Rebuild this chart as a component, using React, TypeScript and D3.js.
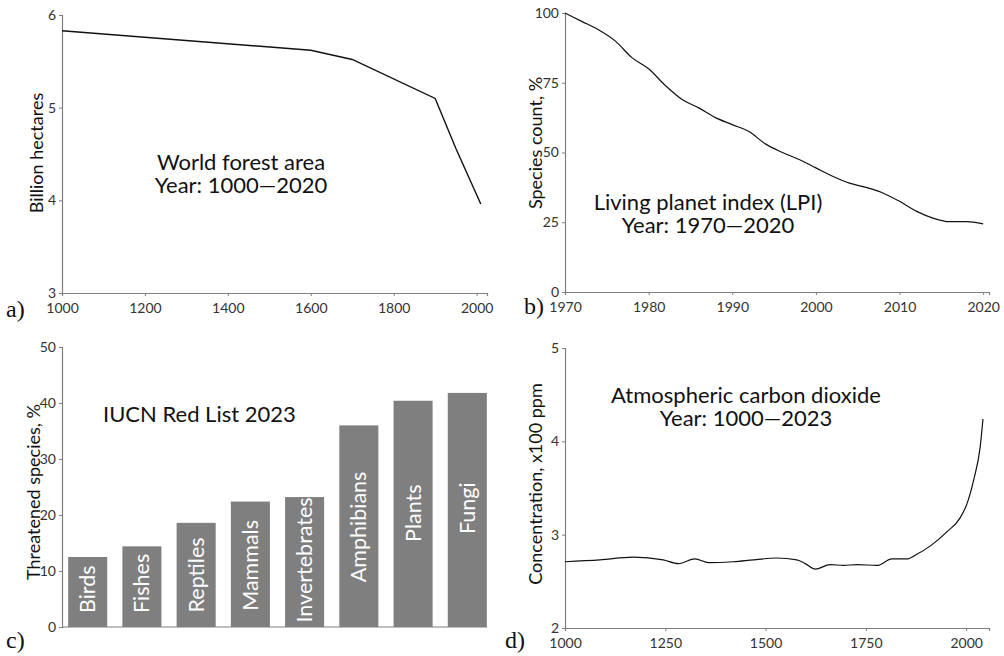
import { useEffect, useRef } from "react";
import * as d3 from "d3";

// a) world forest area, billion hectares
const forestYears = [1000, 1600, 1700, 1900, 1950, 2010];
const forestArea = [5.83, 5.62, 5.52, 5.1, 4.56, 3.96];

// b) living planet index, %
const lpiYears = [1970, 1972, 1974, 1976, 1978, 1980, 1982, 1984, 1986, 1988, 1990, 1992, 1994, 1996, 1998, 2000, 2002, 2004, 2006, 2008, 2010, 2012, 2014, 2016, 2018, 2020];
const lpiValues = [100, 97, 94, 90, 84, 80, 74, 69, 66, 62.5, 60, 57.5, 53, 50, 47.5, 44.5, 41.5, 39, 37.5, 35.5, 32.5, 29, 26.5, 25.2, 25.2, 24.4];

// c) IUCN red list 2023, threatened %
const groups = ["Birds", "Fishes", "Reptiles", "Mammals", "Invertebrates", "Amphibians", "Plants", "Fungi"];
const threatened = [12.5, 14.4, 18.6, 22.4, 23.2, 36.0, 40.4, 41.8];

// d) atmospheric CO2, x100 ppm
const co2Years = [1000, 1087, 1170, 1245, 1283, 1324, 1358, 1420, 1470, 1528, 1578, 1599, 1624, 1661, 1694, 1728, 1778, 1815, 1852, 1877, 1911, 1952, 1985, 2002, 2019, 2035, 2042];
const co2Values = [2.71, 2.73, 2.76, 2.73, 2.69, 2.74, 2.7, 2.71, 2.73, 2.75, 2.73, 2.69, 2.63, 2.68, 2.67, 2.68, 2.67, 2.74, 2.74, 2.79, 2.88, 3.03, 3.18, 3.33, 3.59, 3.94, 4.24];

const FONT = "Lato, 'Liberation Sans', sans-serif";
const AXIS = "#7f7f7f";
const TICK = "#333";
const BAR = "#7f7f7f";
// where each bar's label starts, lifted above the baseline (in % units)
const labelLift = [2.5, 2.5, 2.6, 2.9, 0.8, 8.0, 15.2, 16.6];

function Axis({ scale, orient, transform, tickValues }) {
  const ref = useRef(null);
  useEffect(() => {
    const ax = orient === "bottom" ? d3.axisBottom(scale) : d3.axisLeft(scale);
    ax.tickSizeOuter(0).tickSize(3).tickPadding(orient === "bottom" ? 7 : 3);
    if (tickValues) ax.tickValues(tickValues);
    ax.tickFormat(d3.format("d"));
    const g = d3.select(ref.current);
    g.call(ax);
    g.attr("font-family", FONT).attr("font-size", 14);
    g.select(".domain").attr("stroke", AXIS).attr("stroke-width", 1.2);
    g.selectAll(".tick line").attr("stroke", AXIS);
    g.selectAll(".tick text").attr("fill", TICK);
  }, [scale, orient, tickValues]);
  return <g ref={ref} transform={transform} />;
}

function Title({ x, y, lines, anchor = "middle" }) {
  return (
    <text x={x} y={y} textAnchor={anchor} fontFamily={FONT} fontSize={22} fill="#111">
      {lines.map((l, i) => (
        <tspan key={i} x={x} dy={i === 0 ? 0 : 23}>{l}</tspan>
      ))}
    </text>
  );
}

function YLabel({ x, y, text }) {
  return (
    <text transform={`translate(${x},${y}) rotate(-90)`} textAnchor="middle" fontFamily={FONT} fontSize={18} fill="#111">
      {text}
    </text>
  );
}

function Letter({ x, y, t }) {
  return (
    <text x={x} y={y} fontFamily="'Liberation Serif', serif" fontSize={24} fill="#111">{t}</text>
  );
}

export default function App() {
  // panel a
  const xa = d3.scaleLinear().domain([1000, 2025]).range([62, 487]);
  const ya = d3.scaleLinear().domain([3, 6]).range([293, 15]);
  const lineA = d3.line().x((d) => xa(d[0])).y((d) => ya(d[1]));
  const dataA = forestYears.map((y, i) => [y, forestArea[i]]);

  // panel b
  const xb = d3.scaleLinear().domain([1970, 2020.7]).range([565, 989]);
  const yb = d3.scaleLinear().domain([0, 100]).range([292, 13]);
  const lineB = d3.line().x((d) => xb(d[0])).y((d) => yb(d[1])).curve(d3.curveMonotoneX);
  const dataB = lpiYears.map((y, i) => [y, lpiValues[i]]);

  // panel c
  const xc = d3.scaleBand().domain(groups).range([66, 489]).paddingInner(0.28).paddingOuter(0.04);
  const yc = d3.scaleLinear().domain([0, 50]).range([627, 347]);

  // panel d
  const xd = d3.scaleLinear().domain([1000, 2057]).range([565, 989]);
  const yd = d3.scaleLinear().domain([2, 5]).range([628, 348]);
  const lineD = d3.line().x((d) => xd(d[0])).y((d) => yd(d[1])).curve(d3.curveMonotoneX);
  const dataD = co2Years.map((y, i) => [y, co2Values[i]]);

  return (
    <svg width={1004} height={656} style={{ position: "absolute", left: 0, top: 0, background: "#fff" }}>
      {/* a */}
      <Axis scale={xa} orient="bottom" transform="translate(0,293)" tickValues={[1000, 1200, 1400, 1600, 1800, 2000]} />
      <Axis scale={ya} orient="left" transform="translate(62,0)" tickValues={[3, 4, 5, 6]} />
      <path d={lineA(dataA)} fill="none" stroke="#111" strokeWidth={1.4} />
      <YLabel x={43} y={153} text="Billion hectares" />
      <Title x={241} y={170} lines={["World forest area", "Year: 1000\u20142020"]} />
      <Letter x={6} y={317} t="a)" />

      {/* b */}
      <Axis scale={xb} orient="bottom" transform="translate(0,292)" tickValues={[1970, 1980, 1990, 2000, 2010, 2020]} />
      <Axis scale={yb} orient="left" transform="translate(565,0)" tickValues={[0, 25, 50, 75, 100]} />
      <path d={lineB(dataB)} fill="none" stroke="#111" strokeWidth={1.2} />
      <YLabel x={542} y={143} text="Species count, %" />
      <Title x={708} y={210} lines={["Living planet index (LPI)", "Year: 1970\u20142020"]} />
      <Letter x={524} y={314} t="b)" />

      {/* c */}
      {groups.map((g, i) => (
        <rect key={g} x={xc(g)} y={yc(threatened[i])} width={xc.bandwidth()} height={yc(0) - yc(threatened[i])} fill={BAR} />
      ))}
      {groups.map((g, i) => (
        <text key={g} transform={`translate(${xc(g) + xc.bandwidth() / 2 + 7.5},${yc(labelLift[i])}) rotate(-90)`} fontFamily={FONT} fontSize={21.5} fill="#fff">{g}</text>
      ))}
      <line x1={62} x2={487} y1={yc(0)} y2={yc(0)} stroke={AXIS} strokeWidth={1.2} />
      <Axis scale={yc} orient="left" transform="translate(62,0)" tickValues={[0, 10, 20, 30, 40, 50]} />
      <YLabel x={40} y={492} text="Threatened species, %" />
      <Title x={103} y={422} anchor="start" lines={["IUCN Red List 2023"]} />
      <Letter x={6} y={648} t="c)" />

      {/* d */}
      <Axis scale={xd} orient="bottom" transform="translate(0,628)" tickValues={[1000, 1250, 1500, 1750, 2000]} />
      <Axis scale={yd} orient="left" transform="translate(565,0)" tickValues={[2, 3, 4, 5]} />
      <path d={lineD(dataD)} fill="none" stroke="#111" strokeWidth={1.2} />
      <YLabel x={542} y={484} text="Concentration, x100 ppm" />
      <Title x={746} y={403} lines={["Atmospheric carbon dioxide", "Year: 1000\u20142023"]} />
      <Letter x={505} y={648} t="d)" />
    </svg>
  );
}
